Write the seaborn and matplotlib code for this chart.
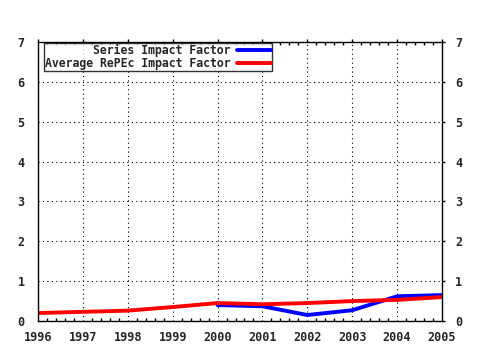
import matplotlib
matplotlib.use("Agg")
import matplotlib.pyplot as plt
import seaborn as sns
import pandas as pd
from matplotlib.ticker import MultipleLocator

years_series = [2000, 2001, 2002, 2003, 2004, 2005]
series_if = [0.40, 0.37, 0.15, 0.27, 0.62, 0.65]
years_avg = [1996, 1997, 1998, 1999, 2000, 2001, 2002, 2003, 2004, 2005]
avg_if = [0.20, 0.23, 0.26, 0.35, 0.45, 0.42, 0.45, 0.50, 0.53, 0.60]

sns.set_style("white")
plt.rcParams['font.family'] = ['DejaVu Sans Mono']
plt.rcParams['font.weight'] = 'bold'

df = pd.concat([
    pd.DataFrame({"year": years_series, "value": series_if, "name": "Series Impact Factor"}),
    pd.DataFrame({"year": years_avg, "value": avg_if, "name": "Average RePEc Impact Factor"}),
])

fig = plt.figure(figsize=(4.8, 3.5), dpi=100)
ax = fig.add_axes([38/480, 29/350, 404/480, 279/350])
sns.lineplot(data=df, x="year", y="value", hue="name",
             palette={"Series Impact Factor": "#0000ff", "Average RePEc Impact Factor": "#ff0000"},
             linewidth=2.8, ax=ax)
ax.set_xlim(1996, 2005)
ax.set_ylim(0, 7)
ax.set_xlabel("")
ax.set_ylabel("")
ax.xaxis.set_major_locator(MultipleLocator(1))
ax.xaxis.set_minor_locator(MultipleLocator(0.2))
ax.yaxis.set_major_locator(MultipleLocator(1))
ax.grid(True, which='major', color='black', linestyle=(0, (1, 3)), linewidth=0.8)
for s in ax.spines.values():
    s.set_color('black')
    s.set_linewidth(1)
ax.tick_params(axis='both', which='major', direction='out', length=2.5, width=1,
               top=True, right=True, labelright=True, labelsize=8.5, color='black')
ax.tick_params(axis='x', which='major', pad=5)
ax.tick_params(axis='y', which='major', pad=7)
ax.tick_params(axis='x', which='minor', direction='in', length=2, width=1,
               top=True, bottom=True, color='black')
for lbl in ax.get_xticklabels() + ax.get_yticklabels():
    lbl.set_fontweight('bold')
leg = ax.legend(loc='upper left', bbox_to_anchor=(6/404, 1 - 1/279), markerfirst=False,
                frameon=True, fancybox=False, fontsize=8.3, borderpad=0.1,
                labelspacing=0.0, handlelength=3.0, handletextpad=0.5, borderaxespad=0)
leg.get_frame().set_edgecolor('black')
leg.get_frame().set_linewidth(1)
for t in leg.get_texts():
    t.set_ha('right')
    t.set_fontweight('bold')
leg._legend_box.align = "right"
fig.savefig("out.png", dpi=100)
